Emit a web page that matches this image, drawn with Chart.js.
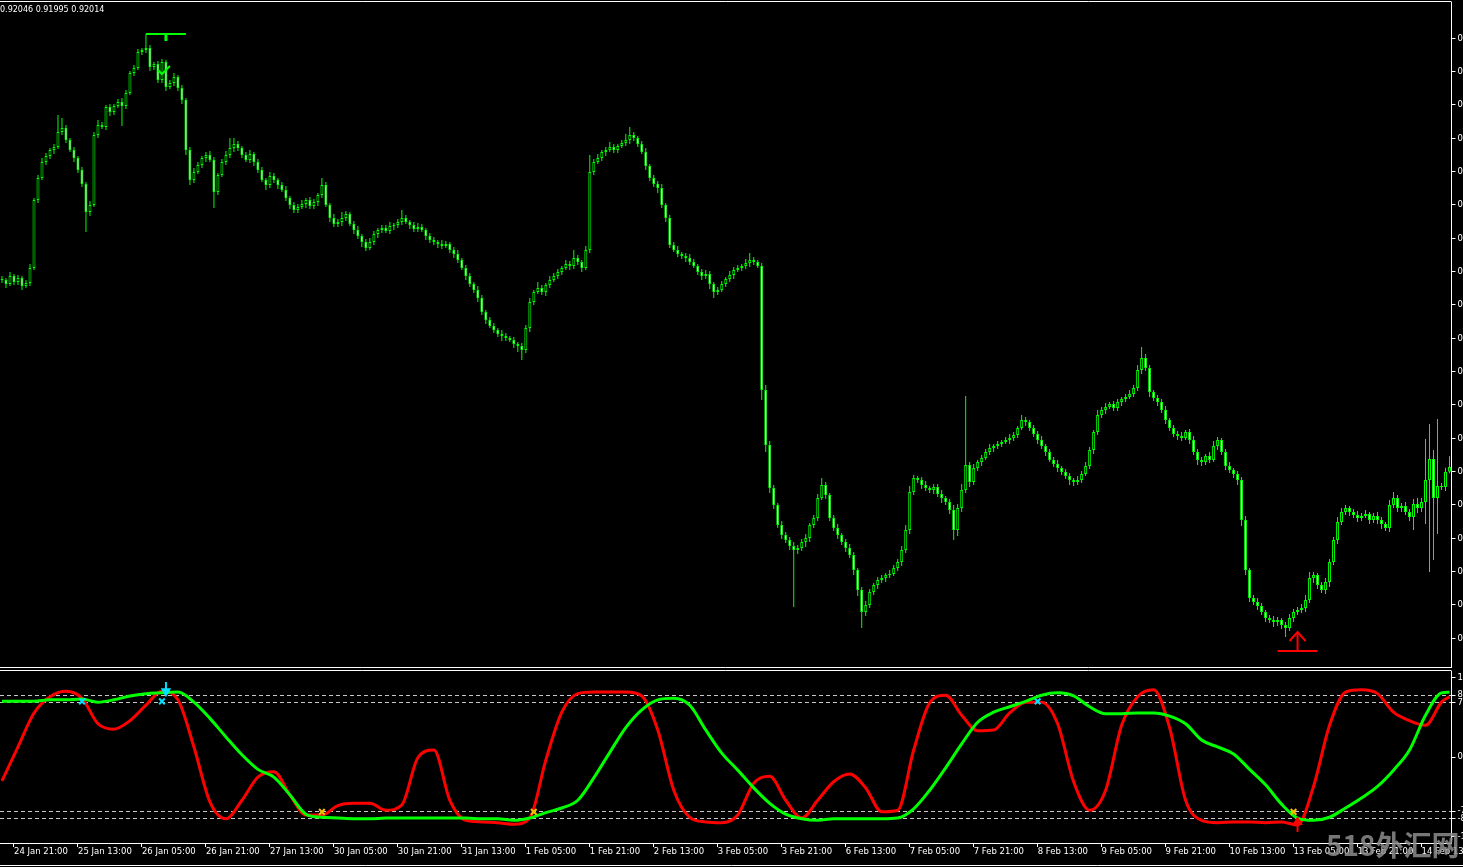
<!DOCTYPE html>
<html lang="en">
<head>
<meta charset="utf-8">
<style>
  html, body { margin: 0; padding: 0; background: #000; overflow: hidden; }
  canvas { position: absolute; left: 0; }
  #priceChart { top: 0; }
  #oscChart { top: 669px; }
</style>
</head>
<body>
<canvas id="priceChart" width="1463" height="669"></canvas>
<canvas id="oscChart" width="1463" height="198"></canvas>
<script src="https://cdn.jsdelivr.net/npm/chart.js"></script>
<script>
// H1 bars starting 24 Jan 18:00, prices in points (1 point = 0.00001)
const firstOpenPts = 92578;
const closePts = [
  92575,92563,92587,92569,92581,92557,92566,92611,92815,92881,
  92929,92947,92965,92974,93019,93031,92995,92965,92941,92905,
  92863,92779,92800,93010,93040,93034,93094,93079,93097,93109,
  93097,93136,93196,93211,93259,93265,93271,93214,93223,93175,
  93229,93154,93166,93184,93151,93115,92965,92875,92899,92920,
  92941,92950,92935,92839,92890,92929,92950,92971,92983,92971,
  92950,92935,92953,92929,92905,92875,92860,92887,92875,92860,
  92845,92821,92800,92785,92794,92803,92815,92797,92809,92830,
  92860,92800,92761,92743,92749,92761,92773,92743,92725,92707,
  92689,92671,92689,92713,92725,92731,92722,92737,92740,92749,
  92761,92749,92740,92728,92734,92725,92707,92695,92689,92683,
  92677,92683,92665,92653,92635,92611,92587,92563,92545,92521,
  92479,92455,92437,92425,92413,92407,92401,92395,92383,92377,
  92365,92431,92509,92539,92551,92539,92560,92575,92587,92599,
  92611,92623,92617,92641,92629,92611,92665,92899,92929,92941,
  92959,92965,92974,92965,92977,92986,92995,93010,93001,92983,
  92959,92917,92881,92863,92851,92800,92761,92680,92665,92653,
  92647,92641,92629,92617,92599,92587,92593,92563,92539,92545,
  92563,92578,92590,92605,92611,92617,92626,92635,92629,92617,
  92245,92080,91951,91900,91840,91810,91795,91777,91765,91771,
  91789,91801,91840,91861,91921,91960,91930,91861,91831,91810,
  91789,91771,91750,91705,91645,91579,91600,91639,91660,91675,
  91681,91690,91693,91711,91729,91765,91825,91939,91981,91975,
  91960,91951,91945,91954,91933,91921,91909,91885,91825,91891,
  91945,92020,91969,92011,92029,92041,92059,92071,92077,92083,
  92089,92095,92101,92110,92131,92155,92149,92131,92113,92095,
  92077,92059,92035,92023,92011,91999,91987,91975,91969,91975,
  91993,92017,92065,92119,92170,92185,92194,92203,92191,92209,
  92218,92224,92233,92251,92305,92341,92311,92239,92221,92209,
  92185,92155,92131,92113,92107,92101,92119,92095,92059,92035,
  92029,92047,92035,92077,92095,92059,92017,92005,91993,91975,
  91855,91705,91621,91609,91597,91579,91561,91555,91549,91555,
  91540,91531,91561,91579,91585,91591,91615,91681,91690,91660,
  91645,91669,91729,91795,91849,91879,91891,91879,91870,91861,
  91867,91873,91855,91867,91855,91843,91831,91900,91921,91891,
  91897,91879,91864,91903,91891,91909,91975,92038,91921,91957,
  91954,92000,92014
];
// how far the high / low stick out of the candle body, in points
const wickHi = [
  9,6,12,6,9,6,9,12,6,9, 12,9,6,9,51,30,9,6,9,6, 9,6,12,9,15,9,6,9,6,9,
  12,9,6,9,9,6,42,9,6,9, 9,6,9,12,6,9,6,9,12,9, 6,9,12,9,6,9,12,30,18,9,
  6,9,12,6,9,9,6,12,9,6, 9,12,6,9,9,12,6,9,9,6, 21,9,6,12,9,18,9,6,9,12,
  6,9,12,9,6,9,9,12,6,9, 24,9,6,9,12,9,6,9,9,6, 12,9,6,9,12,6,9,9,6,12,
  9,6,9,9,6,12,9,6,9,6, 9,9,12,6,18,9,6,12,9,9, 6,12,9,24,9,6,12,51,9,12,
  6,9,15,9,6,9,18,24,9,6, 9,12,6,9,9,12,6,9,9,12, 6,9,12,9,6,9,12,9,6,9,
  9,6,12,9,9,6,12,21,9,6, 9,15,12,9,6,12,9,9,12,9, 9,12,6,9,12,21,9,6,9,12,
  6,9,12,9,6,9,12,9,6,9, 9,6,12,9,9,12,15,18,9,6, 9,12,6,9,9,12,6,9,15,12,
  18,207,9,12,6,9,9,12,6,9, 6,9,12,9,6,15,9,6,9,9, 12,6,9,9,12,6,9,9,6,12,
  9,12,9,6,15,9,12,6,9,9, 6,9,12,9,15,33,12,9,6,9, 9,12,6,9,9,12,6,9,12,9,
  9,6,12,15,9,6,9,12,6,9, 9,12,6,9,12,9,6,9,12,9, 6,9,12,9,9,12,15,18,9,6,
  9,12,9,9,15,12,9,6,9,12, 9,12,6,9,12,9,6,15,18,9, 9,12,9,15,18,12,123,105,27,201,
  9,12,32
];
const wickLo = [
  9,12,6,9,9,12,6,9,6,9, 6,9,9,12,6,9,9,6,12,9, 9,60,12,6,9,6,9,12,9,6,
  60,9,6,9,6,9,9,12,9,9, 9,12,6,9,9,12,15,15,9,6, 9,12,6,48,9,6,9,9,12,9,
  9,6,9,12,9,6,15,9,9,12, 6,9,12,9,9,6,12,9,9,12, 9,6,12,9,9,12,9,6,12,9,
  15,9,6,9,12,9,6,9,12,9, 9,6,12,9,9,6,12,9,9,12, 9,6,9,12,9,6,12,9,9,12,
  9,12,6,9,9,15,9,6,12,18, 30,9,12,9,6,9,12,9,6,9, 9,6,12,9,9,12,6,9,9,6,
  9,12,6,9,9,6,9,12,9,9, 6,12,9,9,15,9,12,9,6,9, 9,12,9,6,9,12,9,15,18,9,
  6,9,9,12,6,9,9,12,9,6, 30,21,15,12,9,12,9,12,171,12, 9,15,12,9,9,6,12,9,9,12,
  9,12,9,15,18,48,12,9,9,12, 9,12,9,6,9,12,9,12,9,9, 12,9,9,12,9,15,9,12,30,18,
  12,9,15,9,9,12,6,9,12,9, 9,6,12,9,9,6,12,9,9,12, 9,12,6,9,12,9,9,15,12,9,
  9,6,9,12,9,9,12,6,9,9, 12,9,6,9,9,12,9,15,9,12, 9,12,9,9,12,9,6,12,9,15,
  12,9,9,6,12,9,12,9,12,15, 18,15,12,9,12,9,12,9,15,12, 12,27,9,12,9,9,12,9,15,12,
  9,12,15,9,12,9,9,12,9,12, 9,6,12,9,12,15,9,12,9,12, 12,9,12,39,15,12,66,276,186,108,
  9,12,5
];

const tickLabels = [
  '24 Jan 21:00', '25 Jan 13:00', '26 Jan 05:00', '26 Jan 21:00', '27 Jan 13:00',
  '30 Jan 05:00', '30 Jan 21:00', '31 Jan 13:00', '1 Feb 05:00', '1 Feb 21:00',
  '2 Feb 13:00', '3 Feb 05:00', '3 Feb 21:00', '6 Feb 13:00', '7 Feb 05:00',
  '7 Feb 21:00', '8 Feb 13:00', '9 Feb 05:00', '9 Feb 21:00', '10 Feb 13:00',
  '13 Feb 05:00', '13 Feb 21:00', '14 Feb 13:00'
];

// oscillator, read every 4th bar (last point = last bar)
const oscStep = 4;
const redLine = [
  -0.31,0.13,0.57,0.78,0.85,0.76,0.43,0.36,0.47,0.67,
  0.85,0.74,0.13,-0.58,-0.80,-0.56,-0.26,-0.19,-0.49,-0.75,
  -0.75,-0.63,-0.60,-0.60,-0.69,-0.62,-0.01,0.09,-0.56,-0.82,
  -0.84,-0.85,-0.87,-0.79,-0.04,0.58,0.82,0.84,0.84,0.84,
  0.79,0.35,-0.43,-0.78,-0.84,-0.85,-0.75,-0.34,-0.25,-0.56,
  -0.79,-0.56,-0.32,-0.22,-0.40,-0.71,-0.69,0.09,0.70,0.80,
  0.54,0.34,0.35,0.57,0.71,0.71,0.43,-0.32,-0.69,-0.43,
  0.41,0.78,0.87,0.38,-0.56,-0.82,-0.85,-0.84,-0.84,-0.85,
  -0.84,-0.88,-0.38,0.41,0.84,0.87,0.82,0.58,0.47,0.41,
  0.71,0.78
];
const greenLine = [
  0.72,0.72,0.72,0.74,0.74,0.75,0.71,0.74,0.79,0.82,
  0.83,0.84,0.71,0.50,0.26,0.03,-0.16,-0.26,-0.49,-0.74,
  -0.78,-0.79,-0.80,-0.80,-0.79,-0.79,-0.79,-0.79,-0.79,-0.79,
  -0.80,-0.80,-0.82,-0.79,-0.72,-0.66,-0.56,-0.27,0.06,0.38,
  0.61,0.74,0.76,0.67,0.35,0.05,-0.17,-0.40,-0.60,-0.74,
  -0.80,-0.82,-0.80,-0.80,-0.80,-0.80,-0.79,-0.67,-0.43,-0.14,
  0.17,0.45,0.58,0.65,0.72,0.80,0.83,0.79,0.65,0.56,
  0.56,0.57,0.57,0.53,0.43,0.22,0.13,0.04,-0.16,-0.36,
  -0.61,-0.79,-0.82,-0.78,-0.66,-0.53,-0.38,-0.17,0.09,0.54,
  0.83,0.84
];
const levels = [0.8, 0.7, -0.7, -0.8];
const oscTickValues = [1.03, 0.8, 0.7, 0, -0.7, -0.8, -1.03];
const oscTickLabels = ['1.0300', '80', '70', '0.0000', '-70', '-80', '-1.0300'];

// signal marks: [bar, value]
const crossCyan = [[20, 0.72], [40, 0.72], [259, 0.72]];
const crossGold = [[80, -0.71], [133, -0.71], [323, -0.71]];
const arrowDownOsc = [[41, 0.97], [41, 0.85]];
const arrowUpOsc = [[324, -0.97], [324, -0.84]];
const highMark = [[36, 0.93313], [46, 0.93313]];
const highStub = [[41, 0.93313], [41, 0.93292]];
const checkMark = [[39, 0.93205], [40, 0.93193], [42, 0.93217]];
const lowMark = [[319, 0.91462], [329, 0.91462]];
const lowArrow = [[324, 0.91462], [324, 0.91519]];
const lowArrowHead = [[322, 0.91492], [324, 0.91519], [326, 0.91492]];

// bar times (weekends skipped)
const months = ['Jan', 'Feb', 'Mar'];
const barTimes = [];
let t = Date.UTC(2017, 0, 24, 18);
while (barTimes.length < closePts.length) {
  const d = new Date(t);
  const wd = d.getUTCDay();
  if (wd !== 0 && wd !== 6) {
    barTimes.push(d.getUTCDate() + ' ' + months[d.getUTCMonth()] + ' ' +
      String(d.getUTCHours()).padStart(2, '0') + ':00');
  }
  t += 3600000;
}

const candles = closePts.map((c, i) => {
  const o = i ? closePts[i - 1] : firstOpenPts;
  return { o: o, c: c, h: Math.max(o, c) + wickHi[i], l: Math.min(o, c) - wickLo[i] };
});
const pr = v => v / 1e5;
const pts = arr => arr.map(p => ({ x: barTimes[p[0]], y: p[1] }));
const last = candles[candles.length - 1];
const infoText = [last.h, last.l, last.c].map(v => pr(v).toFixed(5)).join(' ');

const axisFont = { family: 'DejaVu Sans', size: 8.5 };
const lime = '#00ff00';
// 4 px per bar, bar centres on half pixels
const padLeft = -0.5;
const axisWidth = 11.5;

const framePlugin = {
  id: 'frame',
  afterDraw(chart, args, opts) {
    const { ctx, chartArea: a, width } = chart;
    ctx.save();
    ctx.strokeStyle = '#ffffff';
    ctx.lineWidth = 1;
    ctx.beginPath();
    if (opts.top) { ctx.moveTo(0, a.top - 0.5); ctx.lineTo(a.right, a.top - 0.5); }
    if (opts.bottom) { ctx.moveTo(0, a.bottom + 0.5); ctx.lineTo(a.right, a.bottom + 0.5); }
    if (opts.extraY) { ctx.moveTo(0, opts.extraY); ctx.lineTo(width, opts.extraY); }
    ctx.stroke();
    ctx.restore();
  }
};

const textPlugin = {
  id: 'overlayText',
  afterDraw(chart, args, opts) {
    if (!opts.text) return;
    const ctx = chart.ctx;
    ctx.save();
    ctx.font = opts.font;
    ctx.fillStyle = opts.color;
    ctx.textBaseline = 'alphabetic';
    ctx.fillText(opts.text, opts.x, opts.y);
    ctx.restore();
  }
};

const lineMark = (data, color, width) => ({
  type: 'line', data: pts(data), borderColor: color, borderWidth: width,
  pointRadius: 0, tension: 0, order: 0
});

new Chart(document.getElementById('priceChart'), {
  type: 'bar',
  data: {
    labels: barTimes,
    datasets: [
      lineMark(highMark, lime, 2),
      lineMark(highStub, lime, 3),
      lineMark(checkMark, lime, 2),
      lineMark(lowMark, '#ff0000', 2),
      lineMark(lowArrow, '#ff0000', 2),
      lineMark(lowArrowHead, '#ff0000', 2),
      {
        label: 'body',
        data: candles.map(k => [pr(k.o), pr(k.c)]),
        backgroundColor: candles.map(k => k.c > k.o ? '#000000' : '#d0ffd0'),
        borderColor: lime, borderWidth: 1, borderSkipped: false,
        barThickness: 3, minBarLength: 1, grouped: false, inflateAmount: 0, order: 2
      },
      {
        label: 'wick',
        data: candles.map(k => [pr(k.l), pr(k.h)]),
        backgroundColor: lime, barThickness: 1, grouped: false, inflateAmount: 0, order: 3
      }
    ]
  },
  options: {
    responsive: false,
    animation: false,
    devicePixelRatio: 1,
    layout: { autoPadding: false, padding: { left: padLeft, top: 2, right: 0, bottom: 2 } },
    plugins: {
      legend: { display: false },
      tooltip: { enabled: false },
      frame: { top: true, bottom: true },
      overlayText: { text: infoText, font: '8px "DejaVu Sans"', color: '#ffffff', x: 0, y: 12 }
    },
    scales: {
      x: { display: false, offset: true },
      y: {
        position: 'right',
        min: 0.91414,
        max: 0.93409,
        afterBuildTicks: s => {
          s.ticks = s.ticks.filter(k => Math.abs(k.value * 1000 - Math.round(k.value * 1000)) < 1e-6);
        },
        afterFit: s => { s.width = axisWidth; s.paddingTop = 0; s.paddingBottom = 0; },
        grid: { drawOnChartArea: false, tickLength: 4, tickColor: '#ffffff', color: '#ffffff' },
        border: { color: '#ffffff' },
        ticks: {
          stepSize: 0.001, autoSkip: false, color: '#ffffff', font: axisFont, padding: 2,
          callback: v => v.toFixed(4)
        }
      }
    }
  },
  plugins: [framePlugin, textPlugin]
});

const oscBars = redLine.map((_, k) => Math.min(k * oscStep, closePts.length - 1));
const oscData = arr => arr.map((v, k) => ({ x: barTimes[oscBars[k]], y: v }));

new Chart(document.getElementById('oscChart'), {
  type: 'line',
  data: {
    labels: barTimes,
    datasets: [
      {
        data: pts(crossCyan), showLine: false, pointStyle: 'crossRot', pointRadius: 4,
        pointBorderWidth: 2, pointBorderColor: '#00e0ff', order: 0
      },
      {
        data: pts(crossGold), showLine: false, pointStyle: 'crossRot', pointRadius: 4,
        pointBorderWidth: 2, pointBorderColor: '#f0c000', order: 0
      },
      {
        data: pts(arrowDownOsc), borderColor: '#00e0ff', borderWidth: 2,
        pointRadius: [0, 4], pointStyle: 'triangle', rotation: 180,
        pointBackgroundColor: '#00e0ff', pointBorderColor: '#00e0ff', order: 0
      },
      {
        data: pts(arrowUpOsc), borderColor: '#ff0000', borderWidth: 2,
        pointRadius: [0, 4], pointStyle: 'triangle',
        pointBackgroundColor: '#ff0000', pointBorderColor: '#ff0000', order: 0
      },
      {
        label: 'green', data: oscData(greenLine), borderColor: lime, borderWidth: 3,
        pointRadius: 0, tension: 0.4, cubicInterpolationMode: 'monotone', order: 1
      },
      {
        label: 'red', data: oscData(redLine), borderColor: '#ff0000', borderWidth: 3,
        pointRadius: 0, tension: 0.4, cubicInterpolationMode: 'monotone', order: 2
      }
    ]
  },
  options: {
    responsive: false,
    animation: false,
    devicePixelRatio: 1,
    layout: { autoPadding: false, padding: { left: padLeft, top: 2, right: 0, bottom: 0 } },
    plugins: {
      legend: { display: false },
      tooltip: { enabled: false },
      frame: { top: true, extraY: 196.5 },
      overlayText: {
        text: '518外汇网', font: 'bold 28px "Noto Sans CJK SC"',
        color: 'rgba(140,140,140,0.85)', x: 1326, y: 187
      }
    },
    scales: {
      x: {
        offset: true,
        afterBuildTicks: s => { s.ticks = s.ticks.filter(k => tickLabels.includes(barTimes[k.value])); },
        afterFit: s => { s.height = 24; s.paddingLeft = 0; s.paddingRight = 0; },
        grid: { drawOnChartArea: false, offset: false, tickLength: 4, tickColor: '#ffffff', color: '#ffffff' },
        border: { color: '#ffffff' },
        ticks: { autoSkip: false, maxRotation: 0, align: 'start', color: '#ffffff', font: axisFont, padding: 0 }
      },
      y: {
        position: 'right',
        min: -1.113,
        max: 1.113,
        afterBuildTicks: s => { s.ticks = oscTickValues.map(v => ({ value: v })); },
        afterFit: s => { s.width = axisWidth; s.paddingTop = 0; s.paddingBottom = 0; },
        grid: {
          color: c => (c.tick && levels.includes(c.tick.value)) ? '#c8c8c8' : 'rgba(0,0,0,0)',
          tickColor: '#ffffff', tickLength: 4, tickBorderDash: []
        },
        border: { color: '#ffffff', dash: [4, 3] },
        ticks: {
          autoSkip: false, color: '#ffffff', font: axisFont, padding: 2,
          callback: (v, i) => oscTickLabels[i]
        }
      }
    }
  },
  plugins: [framePlugin, textPlugin]
});
</script>
</body>
</html>
